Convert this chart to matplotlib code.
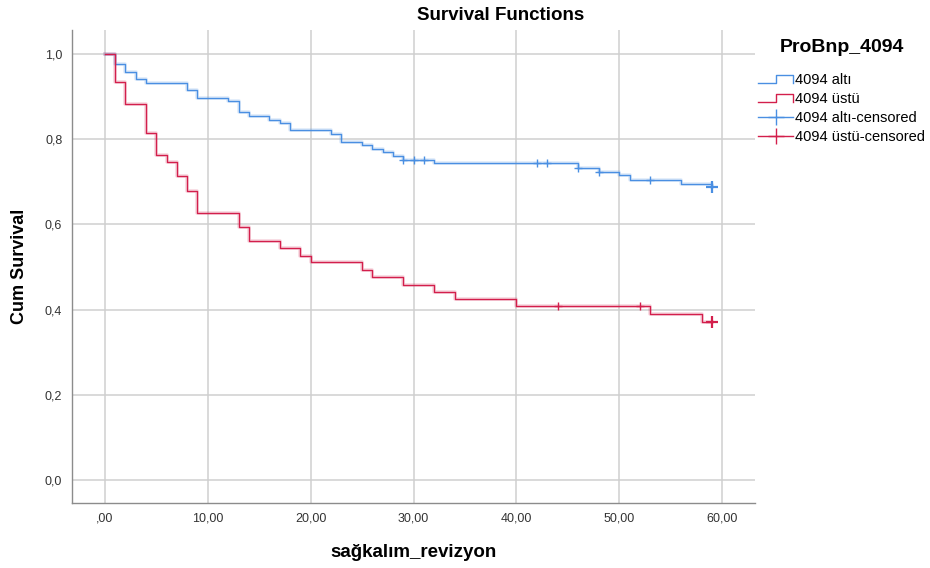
import numpy as np
import matplotlib
matplotlib.use("Agg")
import matplotlib.pyplot as plt
import matplotlib.patheffects as pe
from matplotlib.lines import Line2D
from matplotlib.legend_handler import HandlerBase

plt.rcParams['font.family'] = ['Liberation Sans', 'DejaVu Sans']

# Kaplan-Meier adımları (okunan değerler)
alti_times = [0, 1, 2, 3, 4, 8, 9, 12, 13, 14, 16, 17, 18, 22, 23, 25, 26, 27, 28, 29, 32, 46, 48, 50, 51, 56, 59]
alti_surv = [1.0, 0.976, 0.958, 0.940, 0.932, 0.915, 0.897, 0.890, 0.864, 0.855, 0.846, 0.838, 0.821,
             0.812, 0.794, 0.786, 0.777, 0.769, 0.760, 0.752, 0.744, 0.733, 0.724, 0.715, 0.705, 0.696, 0.687]
alti_cens = [29, 30, 31, 42, 43, 46, 48, 53, 59]
alti_cens_n = [1, 1, 1, 1, 1, 1, 1, 1, 3]

ustu_times = [0, 1, 2, 4, 5, 6, 7, 8, 9, 13, 14, 17, 19, 20, 25, 26, 29, 32, 34, 40, 53, 58]
ustu_surv = [1.0, 0.933, 0.883, 0.815, 0.764, 0.747, 0.713, 0.679, 0.628, 0.594, 0.561, 0.544,
             0.527, 0.511, 0.493, 0.476, 0.459, 0.442, 0.425, 0.408, 0.390, 0.372]
ustu_cens = [44, 52, 59]
ustu_cens_n = [1, 1, 3]

x_ticks = [0, 10, 20, 30, 40, 50, 60]
x_ticklabels = [',00', '10,00', '20,00', '30,00', '40,00', '50,00', '60,00']
y_ticks = [0.0, 0.2, 0.4, 0.6, 0.8, 1.0]
y_ticklabels = ['0,0', '0,2', '0,4', '0,6', '0,8', '1,0']

blue = '#4a8fe2'
red = '#d31f4c'


class StepHandler(HandlerBase):
    # lejantta SPSS tarzı basamak simgesi
    def create_artists(self, legend, orig_handle, xdescent, ydescent, width, height, fontsize, trans):
        x0, x1 = -xdescent, -xdescent + width
        lo, hi = -ydescent + 0.1 * height, -ydescent + 0.9 * height
        xm = x0 + 0.5 * width
        ln = Line2D([x0, xm, xm, x1, x1], [lo, lo, hi, hi, lo],
                    color=orig_handle.get_color(), lw=orig_handle.get_linewidth(), transform=trans)
        return [ln]


fig = plt.figure(figsize=(9.3, 5.68), dpi=100)
ax = fig.add_axes([72 / 930, 1 - 503 / 568, (755 - 72) / 930, (503 - 30) / 568])

halo = lambda c: [pe.Stroke(linewidth=2.6, foreground=c, alpha=0.18), pe.Normal()]

for times, surv, cens, cens_n, col in [(alti_times, alti_surv, alti_cens, alti_cens_n, blue),
                                       (ustu_times, ustu_surv, ustu_cens, ustu_cens_n, red)]:
    t_end = max(cens)
    ax.step(times + [t_end], surv + [surv[-1]], where='post', color=col, lw=1.0,
            path_effects=halo(col), zorder=3)
    idx = np.searchsorted(times, cens, side='right') - 1
    cy = np.array(surv)[idx]
    for cx, yy, n in zip(cens, cy, cens_n):
        big = n > 1
        ax.plot(cx, yy, marker='+', ls='none', color=col, ms=8 if big else 5.5,
                mew=1.6 if big else 1.0, zorder=4)

ax.set_xlim(-3.2, 63.2)
ax.set_ylim(-0.053, 1.056)
ax.set_xticks(x_ticks)
ax.set_xticklabels(x_ticklabels)
ax.set_yticks(y_ticks)
ax.set_yticklabels(y_ticklabels)
ax.tick_params(length=0, labelsize=9, colors='#333333')
ax.tick_params(axis='x', pad=7)
ax.tick_params(axis='y', pad=7)
ax.grid(True, color='#cfcfcf', lw=1.1)
ax.set_axisbelow(True)
for s in ['top', 'right']:
    ax.spines[s].set_visible(False)
for s in ['left', 'bottom']:
    ax.spines[s].set_color('#8c8c8c')
    ax.spines[s].set_linewidth(1.0)

ax.set_xlabel('sağkalım_revizyon', fontsize=13.5, fontweight='bold', labelpad=14)
ax.set_ylabel('Cum Survival', fontsize=13, fontweight='bold', labelpad=12)
fig.text(501 / 930, 1 - 15 / 568, 'Survival Functions', ha='center', va='center',
         fontsize=13.5, fontweight='bold')

# lejant başlığı ayrı metin olarak
fig.text(842 / 930, 1 - 47 / 568, 'ProBnp_4094', ha='center', va='center',
         fontsize=14, fontweight='bold')

handles = [Line2D([], [], color=blue, lw=1.0), Line2D([], [], color=red, lw=1.0),
           Line2D([], [], color=blue, lw=1.0, marker='+', ms=12, mew=1.0),
           Line2D([], [], color=red, lw=1.0, marker='+', ms=12, mew=1.0)]
labels = ['4094 altı', '4094 üstü', '4094 altı-censored', '4094 üstü-censored']
leg = fig.legend(handles, labels, loc='upper left', bbox_to_anchor=(748 / 930, 1 - 63 / 568),
                 frameon=False, fontsize=10.5, handlelength=2.4, borderpad=0.2,
                 handletextpad=0.15, labelspacing=0.34,
                 handler_map={handles[0]: StepHandler(), handles[1]: StepHandler()})

fig.savefig('out.png', dpi=100)
